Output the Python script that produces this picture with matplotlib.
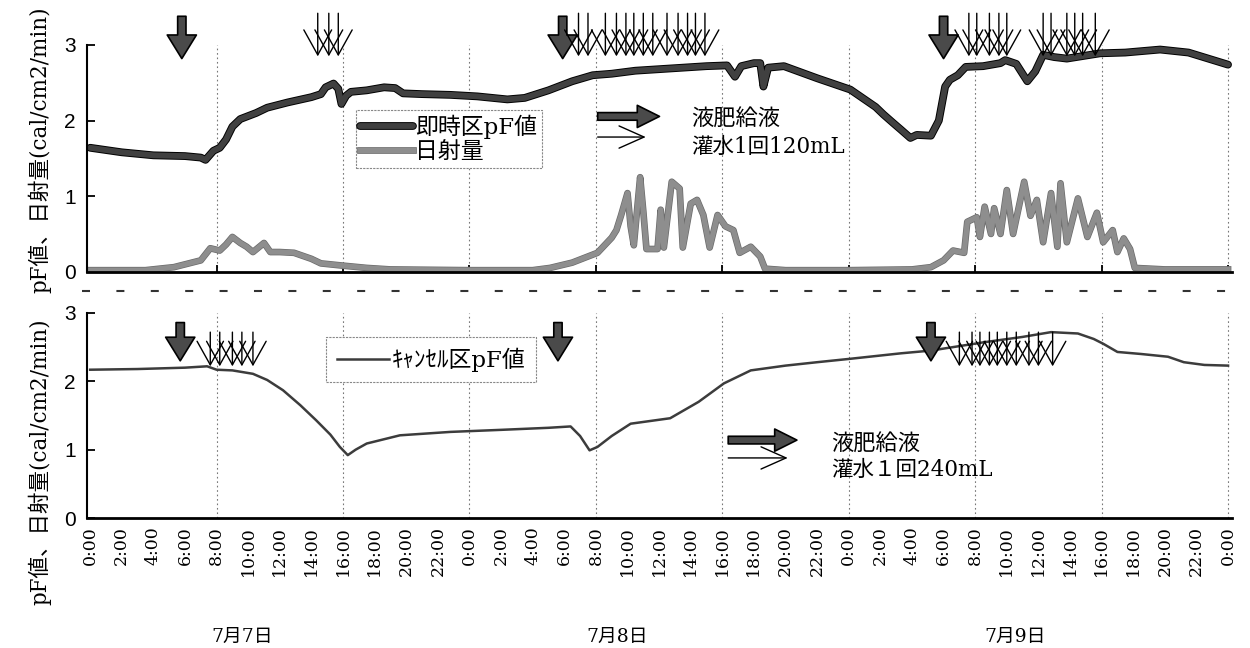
import matplotlib
matplotlib.use('Agg')
import matplotlib.pyplot as plt
import matplotlib.patheffects as pe
from matplotlib.lines import Line2D

plt.rcParams['font.family'] = ['DejaVu Serif', 'Noto Sans CJK JP']

# 時間軸 (7月7日 0:00 からの経過時間 h)
tick_hours = list(range(0, 73, 2))
tick_labels = ['%d:00' % (h % 24) for h in tick_hours]
grid_hours = [8, 16, 24, 32, 40, 48, 56, 64, 72]
date_labels = ['7月7日', '7月8日', '7月9日']

# 即時区pF値
pf_top_t = [0, 2, 4, 6, 7.0, 7.3, 7.8, 8.2, 8.6, 9.0, 9.5, 10.5, 11.2, 12.5, 14.0,
            14.6, 14.9, 15.4, 15.7, 15.9, 16.2, 16.5, 17.5, 18.6, 19.3, 19.8, 21.0,
            22.8, 24.5, 26.4, 27.5, 29.0, 30.5, 31.8, 33.0, 34.5, 36.0, 37.5, 39.0,
            40.3, 40.8, 41.2, 42.0, 42.4, 42.6, 42.9, 43.9, 46.0, 48.1, 49.7, 50.2,
            50.8, 51.3, 51.9, 52.3, 53.2, 53.7, 54.1, 54.4, 54.9, 55.4, 56.5, 57.6,
            57.9, 58.6, 59.3, 59.8, 60.3, 61.0, 61.8, 63.9, 65.5, 67.7, 69.5, 72]
pf_top_v = [1.64, 1.58, 1.54, 1.53, 1.51, 1.48, 1.60, 1.64, 1.75, 1.92, 2.02, 2.10,
            2.17, 2.24, 2.31, 2.35, 2.44, 2.49, 2.42, 2.22, 2.33, 2.38, 2.40, 2.44,
            2.43, 2.36, 2.35, 2.34, 2.32, 2.28, 2.30, 2.40, 2.52, 2.60, 2.62, 2.66,
            2.68, 2.70, 2.72, 2.73, 2.58, 2.72, 2.76, 2.76, 2.45, 2.70, 2.72, 2.56,
            2.41, 2.18, 2.08, 1.97, 1.88, 1.77, 1.81, 1.80, 2.00, 2.45, 2.54, 2.60,
            2.71, 2.72, 2.76, 2.80, 2.75, 2.52, 2.65, 2.87, 2.84, 2.82, 2.89, 2.90,
            2.94, 2.90, 2.74]

# 日射量
sol_t = [0, 3.5, 5.3, 7.0, 7.6, 8.2, 8.6, 9.0, 9.5, 9.9, 10.3, 11.0, 11.4, 12.0,
         12.9, 14.0, 14.6, 16.0, 17.5, 19.0, 24.0, 28.0, 29.1, 30.5, 32.1, 33.0,
         33.3, 33.6, 34.0, 34.2, 34.4, 34.6, 34.8, 35.0, 35.2, 35.9, 36.1, 36.3,
         36.8, 37.3, 37.5, 38.0, 38.4, 38.8, 39.2, 39.7, 40.2, 40.7, 41.1, 41.8,
         42.4, 42.7, 44.0, 48.0, 52.0, 53.2, 54.0, 54.6, 55.3, 55.5, 56.1, 56.3,
         56.6, 57.0, 57.2, 57.6, 58.0, 58.4, 59.1, 59.5, 59.9, 60.3, 60.8, 61.2,
         61.4, 61.8, 62.5, 63.1, 63.7, 64.1, 64.7, 65.0, 65.4, 65.8, 66.1, 68.0, 72.0]
sol_v = [0.02, 0.02, 0.06, 0.15, 0.31, 0.28, 0.36, 0.46, 0.38, 0.33, 0.26, 0.38,
         0.26, 0.26, 0.25, 0.17, 0.11, 0.08, 0.05, 0.03, 0.02, 0.02, 0.05, 0.12,
         0.25, 0.45, 0.55, 0.75, 1.04, 0.60, 0.35, 0.80, 1.25, 0.80, 0.30, 0.30,
         0.82, 0.32, 1.19, 1.10, 0.32, 0.90, 0.95, 0.75, 0.32, 0.75, 0.60, 0.55,
         0.25, 0.33, 0.20, 0.04, 0.02, 0.02, 0.03, 0.06, 0.15, 0.28, 0.25, 0.66,
         0.72, 0.46, 0.86, 0.50, 0.84, 0.50, 1.08, 0.50, 1.19, 0.74, 0.95, 0.39,
         1.04, 0.33, 1.17, 0.39, 0.97, 0.46, 0.78, 0.39, 0.55, 0.26, 0.44, 0.30,
         0.05, 0.03, 0.03]

# キャンセル区pF値
pf_bot_t = [0, 3, 6, 7.4, 8.0, 9.0, 10.3, 11.2, 12.2, 13.3, 14.3, 15.2, 15.8, 16.3,
            16.8, 17.5, 19.6, 22.8, 26.0, 29.0, 30.4, 31.0, 31.6, 32.1, 33.0, 34.2,
            36.7, 38.5, 40.1, 41.8, 44.0, 46.0, 48.1, 51.3, 53.2, 56.5, 59.0, 60.8,
            62.5, 63.5, 64.1, 65.0, 66.5, 68.2, 69.2, 70.5, 72]
pf_bot_v = [2.17, 2.18, 2.20, 2.22, 2.17, 2.16, 2.11, 2.02, 1.87, 1.65, 1.43, 1.22,
            1.04, 0.92, 1.00, 1.09, 1.21, 1.26, 1.29, 1.32, 1.34, 1.20, 0.99, 1.04,
            1.20, 1.38, 1.46, 1.70, 1.97, 2.16, 2.23, 2.28, 2.33, 2.41, 2.45, 2.57,
            2.65, 2.72, 2.70, 2.62, 2.55, 2.43, 2.40, 2.36, 2.28, 2.24, 2.23]

# 液肥給液(太矢印)と灌水(細矢印)の時刻
fert_top = [5.8, 29.9, 54.0]
irr_top = [14.4, 15.1, 15.7,
           30.9, 31.5, 32.6, 33.3, 33.9, 34.4, 35.0, 35.6, 36.5, 37.2, 37.8, 38.3, 38.9,
           55.6, 56.1, 56.9, 57.5, 58.0, 60.3, 60.8, 61.8, 62.3, 62.8, 63.6]
fert_bot = [5.7, 29.6, 53.2]
irr_bot = [7.6, 8.2, 9.0, 9.6, 10.3,
           55.0, 55.8, 56.3, 56.9, 57.4, 58.0, 58.6, 59.4, 60.0, 60.9]

W, H = 1250, 648
fig = plt.figure(figsize=(W / 100, H / 100), dpi=100)
ax1 = fig.add_axes([87 / W, 1 - 271.7 / H, (1232 - 87) / W, (271.7 - 45) / H])
ax2 = fig.add_axes([87 / W, 1 - 518 / H, (1232 - 87) / W, (518 - 313) / H])

l1, = ax1.plot(pf_top_t, pf_top_v, color='#404040', lw=4.2, label='即時区pF値',
               solid_capstyle='round',
               path_effects=[pe.Stroke(linewidth=5.6, foreground='black'), pe.Normal()])
l2, = ax1.plot(sol_t, sol_v, color='#8e8e8e', lw=3.8, label='日射量',
               path_effects=[pe.Stroke(linewidth=4.8, foreground='#6a6a6a'), pe.Normal()])
l3, = ax2.plot(pf_bot_t, pf_bot_v, color='#3c3c3c', lw=1.8, label='ｷｬﾝｾﾙ区pF値')

for ax in (ax1, ax2):
    ax.set_xlim(-0.2, 72.25)
    ax.set_ylim(0, 3)
    for s in ('top', 'right'):
        ax.spines[s].set_visible(False)
    ax.spines['bottom'].set_linewidth(2)
    ax.spines['left'].set_linewidth(1.5)
    ax.set_yticks([0, 1, 2, 3])
    ax.tick_params(axis='y', direction='in', length=6, width=1.3, labelsize=15,
                   pad=8)
    for lab in ax.get_yticklabels():
        lab.set_family('Liberation Sans')
    for h in grid_hours:
        ax.axvline(h, color='#777777', lw=0.8, ls=(0, (1.5, 2.5)), zorder=0)

ax1.set_xticks(grid_hours)
ax1.tick_params(axis='x', direction='in', length=5, width=1.3, labelbottom=False)

ax2.set_xticks(tick_hours)
ax2.set_xticklabels(tick_labels, rotation=90, fontsize=12.5)
ax2.set_xticks(grid_hours, minor=True)
ax2.tick_params(axis='x', which='major', length=0, pad=6)
ax2.tick_params(axis='x', which='minor', direction='in', length=5, width=1.3)


def bold_arrow(ax, t, y0, y1):
    ax.annotate('', xy=(t, y1), xytext=(t, y0), annotation_clip=False,
                arrowprops=dict(arrowstyle='simple,head_length=1.7,head_width=2.1,tail_width=0.6',
                                mutation_scale=10, fc='#4a4a4a', ec='black', lw=1.2,
                                shrinkA=0, shrinkB=0))


def thin_arrow(ax, t, y0, y1, hw, hl):
    ax.annotate('', xy=(t, y1), xytext=(t, y0), annotation_clip=False,
                arrowprops=dict(arrowstyle='->,head_length=%s,head_width=%s' % (hl, hw),
                                mutation_scale=10, color='black', lw=1.0,
                                shrinkA=0, shrinkB=0))


for t in fert_top:
    bold_arrow(ax1, t, 3.38, 2.82)
for t in irr_top:
    thin_arrow(ax1, t, 3.42, 2.85, 1.0, 1.8)
for t in fert_bot:
    bold_arrow(ax2, t, 2.86, 2.30)
for t in irr_bot:
    thin_arrow(ax2, t, 2.72, 2.22, 0.95, 1.7)

# 凡例の矢印と説明
ax1.annotate('', xy=(0.5, 0.685), xytext=(0.446, 0.685), xycoords='axes fraction',
             arrowprops=dict(arrowstyle='simple,head_length=1.6,head_width=1.6,tail_width=0.55',
                             mutation_scale=10, fc='#4a4a4a', ec='black', lw=1.2,
                             shrinkA=0, shrinkB=0))
ax1.annotate('', xy=(0.488, 0.594), xytext=(0.446, 0.594), xycoords='axes fraction',
             arrowprops=dict(arrowstyle='->,head_length=1.8,head_width=0.8',
                             mutation_scale=10, color='black', lw=1.0,
                             shrinkA=0, shrinkB=0))
ax1.text(0.528, 0.669, '液肥給液', transform=ax1.transAxes, fontsize=16, va='center')
ax1.text(0.528, 0.55, '灌水1回120mL', transform=ax1.transAxes, fontsize=15.5, va='center')

ax2.annotate('', xy=(0.62, 0.38), xytext=(0.56, 0.38), xycoords='axes fraction',
             arrowprops=dict(arrowstyle='simple,head_length=1.6,head_width=1.6,tail_width=0.55',
                             mutation_scale=10, fc='#4a4a4a', ec='black', lw=1.2,
                             shrinkA=0, shrinkB=0))
ax2.annotate('', xy=(0.612, 0.293), xytext=(0.56, 0.293), xycoords='axes fraction',
             arrowprops=dict(arrowstyle='->,head_length=1.8,head_width=0.8',
                             mutation_scale=10, color='black', lw=1.0,
                             shrinkA=0, shrinkB=0))
ax2.text(0.65, 0.356, '液肥給液', transform=ax2.transAxes, fontsize=16, va='center')
ax2.text(0.65, 0.234, '灌水１回240mL', transform=ax2.transAxes, fontsize=15.5, va='center')

leg1 = ax1.legend(handles=[l1, l2], loc='upper left', bbox_to_anchor=(0.2345, 0.713),
                  fancybox=False, edgecolor='#888888', fontsize=16.5, handlelength=2.3,
                  handletextpad=0.1, borderpad=0.2, labelspacing=0.1, borderaxespad=0,
                  framealpha=1)
leg1.get_frame().set_linewidth(0.8)
leg1.get_frame().set_linestyle((0, (2, 1)))
leg2 = ax2.legend(handles=[l3], loc='upper left', bbox_to_anchor=(0.209, 0.883),
                  fancybox=False, edgecolor='#888888', fontsize=16.5, handlelength=2.3,
                  handletextpad=0.1, borderpad=0.45, borderaxespad=0, framealpha=1)
leg2.get_frame().set_linewidth(0.8)
leg2.get_frame().set_linestyle((0, (2, 1)))

# 縦軸ラベル
ylab = 'pF値、日射量(cal/cm2/min)'
fig.text(40 / W, 1 - 150 / H, ylab, rotation=90, ha='center', va='center', fontsize=15.5)
fig.text(40 / W, 1 - 462 / H, ylab, rotation=90, ha='center', va='center', fontsize=15.5)

# 日付
for x, s in zip([242, 617, 1015], date_labels):
    fig.text(x / W, 1 - 637 / H, s, ha='center', va='center', fontsize=13.5)

# 上下グラフの区切り線
fig.add_artist(Line2D([82 / W, 1240 / W], [1 - 291 / H] * 2, transform=fig.transFigure,
                      color='#333333', lw=1.5, dashes=(3.84, 12.67)))

fig.savefig('out.png', dpi=100)
